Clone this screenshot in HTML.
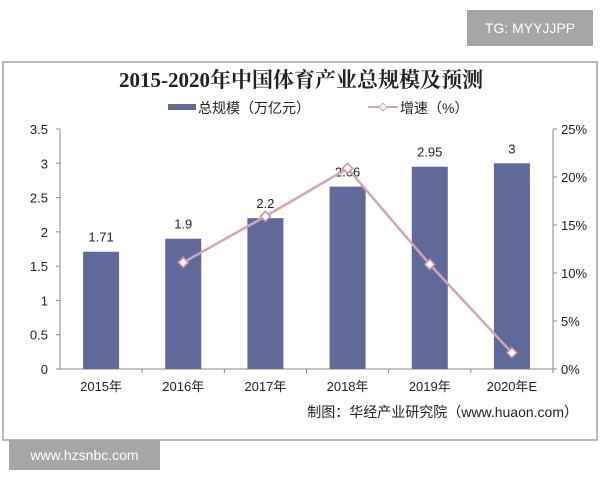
<!DOCTYPE html>
<html><head><meta charset="utf-8"><style>
body{margin:0;width:600px;height:480px;background:#fff;position:relative;overflow:hidden;font-family:"Liberation Sans","Noto Sans CJK SC",sans-serif}
.badge{position:absolute;background:#a6a6a6;color:#fff;font-size:14px;display:flex;align-items:center;justify-content:center}
</style></head><body>
<div class="badge" style="left:467px;top:10px;width:126px;height:36px">TG: MYYJJPP</div>
<div class="badge" style="left:9px;top:440px;width:151px;height:30px">www.hzsnbc.com</div>
<svg width="600" height="480" style="position:absolute;left:0;top:0">
<rect x="3" y="62" width="594" height="378" fill="none" stroke="#a0a0a0" stroke-width="1.5"/>
<text x="301" y="87" text-anchor="middle" font-family="'Liberation Serif','Noto Serif CJK SC',serif" font-weight="bold" font-size="21" fill="#222">2015-2020年中国体育产业总规模及预测</text>
<g font-size="14" fill="#222">
<rect x="168" y="104" width="28" height="6" fill="#5f6a9a"/>
<text x="198" y="113">总规模（万亿元）</text>
<line x1="368" y1="107" x2="398" y2="107" stroke="#d6a3b3" stroke-width="2"/>
<path d="M383 103 L387 107 L383 111 L379 107Z" fill="#fff" stroke="#d6a3b3"/>
<text x="400" y="113">增速（%）</text>
</g>
<g id="axes"></g><g id="marks"></g>
<text x="578" y="417" text-anchor="end" font-size="14" fill="#222">制图：华经产业研究院（www.huaon.com）</text>
</svg>
<script>
const categories=["2015年","2016年","2017年","2018年","2019年","2020年E"];
const scaleValues=[1.71,1.9,2.2,2.66,2.95,3];
const growthValues=[null,11.1,15.9,20.9,10.9,1.7];
const leftTicks=[0,0.5,1,1.5,2,2.5,3,3.5];
const rightTicks=[0,5,10,15,20,25];
const NS="http://www.w3.org/2000/svg";
const X0=60,X1=553,Y0=369,Y1=129;
const bw=(X1-X0)/categories.length;
const xc=i=>X0+bw*(i+0.5);
const yl=v=>Y0-(v/3.5)*(Y0-Y1);
const yr=v=>Y0-(v/25)*(Y0-Y1);
function mk(tag,attrs,parent,text){const e=document.createElementNS(NS,tag);for(const k in attrs)e.setAttribute(k,attrs[k]);if(text!=null)e.textContent=text;document.getElementById(parent).appendChild(e);return e;}
let e;
e=mk("line",{x1:X0,y1:Y0,x2:X1,y2:Y0,stroke:"#888"},"axes");


e=mk("line",{x1:X0,y1:Y1,x2:X0,y2:Y0,stroke:"#888"},"axes");


e=mk("line",{x1:X1,y1:Y1,x2:X1,y2:Y0,stroke:"#888"},"axes");


leftTicks.forEach(t=>{
 mk("line",{x1:X0-4,x2:X0,y1:yl(t),y2:yl(t),stroke:"#888"},"axes");
 e=mk("text",{x:X0-12,y:yl(t)+5,"text-anchor":"end","font-size":"13",fill:"#222"},"axes",String(t));
 
 
});
rightTicks.forEach(t=>{
 mk("line",{x1:X1,x2:X1+4,y1:yr(t),y2:yr(t),stroke:"#888"},"axes");
 e=mk("text",{x:X1+8,y:yr(t)+5,"font-size":"13",fill:"#222"},"axes",t+"%");
 
 
});
categories.forEach((c,i)=>{
 mk("line",{x1:X0+bw*(i+1),x2:X0+bw*(i+1),y1:Y0,y2:Y0+4,stroke:"#888"},"axes");
 e=mk("text",{x:xc(i),y:Y0+22,"text-anchor":"middle","font-size":"13",fill:"#222"},"axes",c);
 
 
});
scaleValues.forEach((v,i)=>{
 e=mk("rect",{x:xc(i)-18,y:yl(v),width:36,height:Y0-yl(v),fill:"#5f6a9a"},"marks");
 
 
 e=mk("text",{x:xc(i),y:yl(v)-10,"text-anchor":"middle","font-size":"13",fill:"#222"},"marks",String(v));
 
 
});
const pts=growthValues.map((v,i)=>v==null?null:[xc(i),yr(v)]).filter(p=>p);
e=mk("polyline",{points:pts.map(p=>p.join(",")).join(" "),fill:"none",stroke:"#d6a3b3","stroke-width":"2.5"},"marks");


pts.forEach(p=>{
 e=mk("path",{d:`M${p[0]} ${p[1]-5} L${p[0]+5} ${p[1]} L${p[0]} ${p[1]+5} L${p[0]-5} ${p[1]}Z`,fill:"#fff",stroke:"#c98fa3","stroke-width":"1.5"},"marks");
 
 
});
</script>
</body></html>
